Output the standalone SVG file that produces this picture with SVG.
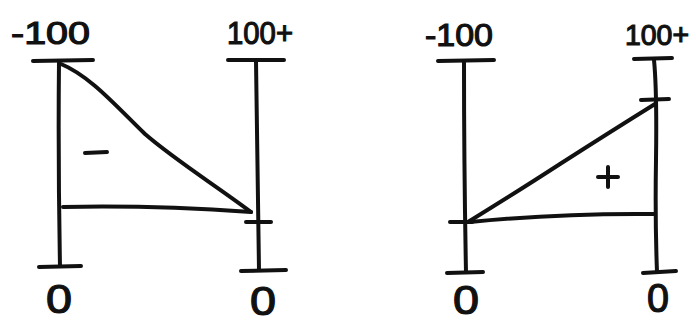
<svg xmlns="http://www.w3.org/2000/svg" width="696" height="322" viewBox="0 0 696 322">
  <style>
    .ink { fill: none; stroke: #111; stroke-width: 4; stroke-linecap: round; stroke-linejoin: round; }
    .lbl { font-family: "Liberation Sans", Arial, sans-serif; fill: #111; stroke: #111; stroke-width: 1.2; }
    .top { font-size: 32px; }
    .top-edge { font-size: 29px; }
    .zero { font-size: 40px; }
  </style>
  <rect width="696" height="322" fill="#fff"/>

  <!-- Left panel: negative wedge -->
  <g id="panel-negative">
    <g id="axis-left-a">
      <path class="ink" d="M33 61 L93 60"/>
      <path class="ink" d="M59 61 Q58 160 60 266"/>
      <path class="ink" d="M39 267 L81 266"/>
      <text class="lbl top" x="11" y="44" textLength="79" lengthAdjust="spacingAndGlyphs">-100</text>
      <text class="lbl zero" x="46" y="313" textLength="26" lengthAdjust="spacingAndGlyphs">0</text>
    </g>
    <g id="axis-right-a">
      <path class="ink" d="M228 60 L284 60"/>
      <path class="ink" d="M256 61 Q258 170 259 270"/>
      <path class="ink" d="M246 222 L271 222"/>
      <path class="ink" d="M241 271 L286 270"/>
      <text class="lbl top" x="227" y="44" textLength="66" lengthAdjust="spacingAndGlyphs">100+</text>
      <text class="lbl zero" x="250" y="315" textLength="26" lengthAdjust="spacingAndGlyphs">0</text>
    </g>
    <g id="wedge-negative">
      <path class="ink" d="M61 64 C90 76 115 105 145 134 C175 160 215 185 251 212"/>
      <path class="ink" d="M63 207 Q150 205 251 212"/>
      <path class="ink" d="M85 153 L107 152"/>
    </g>
  </g>

  <!-- Right panel: positive wedge -->
  <g id="panel-positive">
    <g id="axis-left-b">
      <path class="ink" d="M438 61 L494 60"/>
      <path class="ink" d="M464 61 Q464 170 466 272"/>
      <path class="ink" d="M450 222 L472 222"/>
      <path class="ink" d="M447 273 L483 272"/>
      <text class="lbl top" x="425" y="46" textLength="68" lengthAdjust="spacingAndGlyphs">-100</text>
      <text class="lbl zero" x="453" y="314" textLength="26" lengthAdjust="spacingAndGlyphs">0</text>
    </g>
    <g id="axis-right-b">
      <path class="ink" d="M634 59 L672 58"/>
      <path class="ink" d="M654 60 Q657 90 656 160 Q655 220 657 272"/>
      <path class="ink" d="M641 100 L669 99"/>
      <path class="ink" d="M643 273 L676 271"/>
      <text class="lbl top-edge" x="625" y="45" textLength="64" lengthAdjust="spacingAndGlyphs">100+</text>
      <text class="lbl zero" x="647" y="312" textLength="22" lengthAdjust="spacingAndGlyphs">0</text>
    </g>
    <g id="wedge-positive">
      <path class="ink" d="M468 222 Q520 190 560 164 Q610 132 655 104"/>
      <path class="ink" d="M470 222 Q560 213 655 214"/>
      <path class="ink" d="M598 177 L618 177 M608 167 L608 187"/>
    </g>
  </g>
</svg>
